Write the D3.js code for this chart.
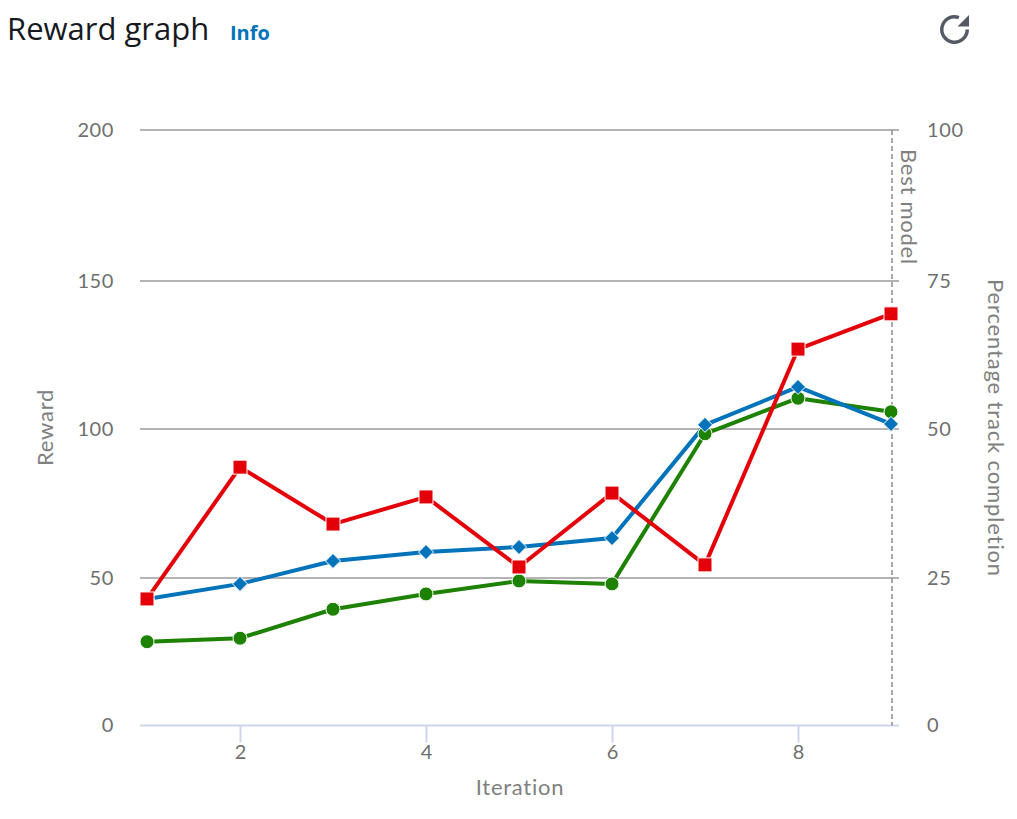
<!DOCTYPE html>
<html>
<head>
<meta charset="utf-8">
<script src="https://cdn.jsdelivr.net/npm/d3@7"></script>
<style>
html,body{margin:0;padding:0;background:#fff;overflow:hidden}
svg{display:block}
text{font-family:Lato,"Noto Sans",sans-serif}
</style>
</head>
<body>
<svg id="c" width="1017" height="819"></svg>
<script>
const iterations = [1,2,3,4,5,6,7,8,9];
const redReward = [42.9,87.2,68.1,77.2,53.7,78.5,54.4,127,138.9];
const blueReward = [42.9,48,55.7,58.7,60.4,63.4,101.4,114.2,101.7];
const greenPercent = [14.2,14.8,19.7,22.3,24.5,24,49.2,55.2,52.9];
const xTicks = [2,4,6,8];
const leftTicks = [0,50,100,150,200];
const rightTicks = [0,25,50,75,100];
const bestIteration = 9;

const svg = d3.select("#c");
const x = d3.scaleLinear().domain([1,9]).range([147,891]);
const yRange = [725.5,578,429,281,130];
const yL = d3.scaleLinear().domain(leftTicks).range(yRange);
const yR = d3.scaleLinear().domain(rightTicks).range(yRange);
const left = 140, right = 899, grey = "#6f6f6f", titleGrey = "#808080";

// grid
svg.append("g").selectAll("line").data(leftTicks.slice(1)).join("line")
  .attr("x1",left).attr("x2",right).attr("y1",d=>yL(d)).attr("y2",d=>yL(d))
  .attr("stroke","#b3b3b3").attr("stroke-width",2);

// x axis line + ticks
svg.append("line").attr("x1",left).attr("x2",right).attr("y1",yL(0)).attr("y2",yL(0))
  .attr("stroke","#ccd6eb").attr("stroke-width",2);
const xAxis = d3.axisBottom(x).tickValues(xTicks).tickSize(17).tickPadding(3).tickFormat(d3.format("d"));
const gx = svg.append("g").attr("transform",`translate(0,${yL(0)})`).call(xAxis);
gx.select(".domain").remove();
gx.selectAll("line").attr("stroke","#ccd6eb").attr("stroke-width",2);
gx.selectAll("text").attr("fill",grey).style("font-size","20px").attr("y",19).attr("dy","0.71em");

// y axes
const gl = svg.append("g").attr("transform",`translate(${left},0)`)
  .call(d3.axisLeft(yL).tickValues(leftTicks).tickSize(0).tickPadding(26));
gl.select(".domain").remove();
gl.selectAll("text").attr("fill",grey).style("font-size","20px").style("letter-spacing","0.6px");
const gr = svg.append("g").attr("transform",`translate(${right},0)`)
  .call(d3.axisRight(yR).tickValues(rightTicks).tickSize(0).tickPadding(28));
gr.select(".domain").remove();
gr.selectAll("text").attr("fill",grey).style("font-size","20px").style("letter-spacing","0.6px");

// best model
svg.append("line").attr("x1",x(bestIteration)+1).attr("x2",x(bestIteration)+1).attr("y1",yL(200)).attr("y2",yL(0))
  .attr("stroke","#8c8c8c").attr("stroke-width",1.5).attr("stroke-dasharray","5,3");
svg.append("text").attr("transform","translate(901,149) rotate(90)")
  .attr("fill",titleGrey).style("font-size","22px").style("letter-spacing","0.75px").text("Best model");

// series
const line = (sc)=>d3.line().x((d,i)=>x(iterations[i])).y(d=>sc(d));
const series = [
  {vals:greenPercent,sc:yR,color:"#1d8102",sym:"circle"},
  {vals:blueReward,sc:yL,color:"#0073bb",sym:"diamond"},
  {vals:redReward,sc:yL,color:"#e30009",sym:"square"}
];
series.forEach(s=>{
  svg.append("path").attr("d",line(s.sc)(s.vals)).attr("fill","none")
    .attr("stroke",s.color).attr("stroke-width",4).attr("stroke-linejoin","round");
});
series.forEach(s=>{
  const g = svg.append("g");
  s.vals.forEach((v,i)=>{
    const px=x(iterations[i]), py=s.sc(v);
    const attrs = e=>e.attr("fill",s.color).attr("stroke","#fff").attr("stroke-width",1);
    if(s.sym==="circle") attrs(g.append("circle").attr("cx",px).attr("cy",py).attr("r",7));
    else if(s.sym==="square") attrs(g.append("rect").attr("x",px-7).attr("y",py-7).attr("width",14).attr("height",14));
    else attrs(g.append("path").attr("d",`M${px},${py-7.5}L${px+7.5},${py}L${px},${py+7.5}L${px-7.5},${py}Z`));
  });
});

// axis titles
svg.append("text").attr("x",520).attr("y",795).attr("text-anchor","middle")
  .attr("fill",titleGrey).style("font-size","22px").style("letter-spacing","0.75px").text("Iteration");
svg.append("text").attr("transform","translate(53,427.5) rotate(-90)").attr("text-anchor","middle")
  .attr("fill",titleGrey).style("font-size","22px").style("letter-spacing","0.75px").text("Reward");
svg.append("text").attr("transform","translate(988,428) rotate(90)").attr("text-anchor","middle")
  .attr("fill",titleGrey).style("font-size","22px").style("letter-spacing","0.85px").text("Percentage track completion");

// header
svg.append("text").attr("x",7).attr("y",40).attr("fill","#16191f")
  .style("font-family","'Open Sans',sans-serif").style("font-size","31px").text("Reward graph");
svg.append("text").attr("x",230).attr("y",40).attr("fill","#0073bb")
  .style("font-family","'Open Sans',sans-serif").style("font-size","20px").style("font-weight","700").text("Info");

// refresh icon
const ic = svg.append("g").attr("transform","translate(954.5,29.5)");
const arc = d3.arc().innerRadius(11).outerRadius(14.5).startAngle(Math.PI/2).endAngle(2*Math.PI+0.35);
ic.append("path").attr("d",arc()).attr("fill","#545b64");
ic.append("path").attr("d","M14.5,-14.5 V-3 H3 Z").attr("fill","#545b64");
</script>
</body>
</html>
